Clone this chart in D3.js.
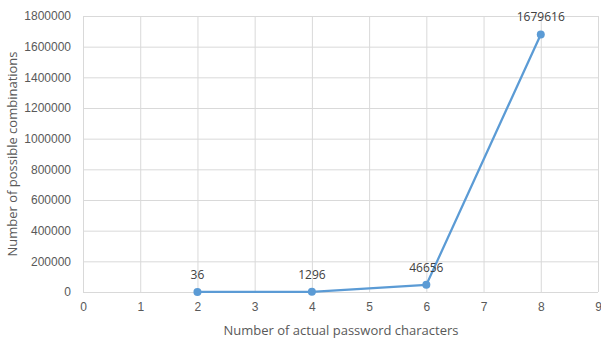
<!DOCTYPE html>
<html>
<head>
<meta charset="utf-8">
<script src="https://cdn.jsdelivr.net/npm/d3@7"></script>
<style>
  html, body { margin: 0; padding: 0; background: #fff; }
  svg { display: block; font-family: "Open Sans", "Noto Sans", sans-serif; }
</style>
</head>
<body>
<svg id="chart" width="601" height="341"></svg>
<script>
// Password length vs. number of combinations
const characters = [2, 4, 6, 8];
const combinations = [36, 1296, 46656, 1679616];
const xTicks = [0, 1, 2, 3, 4, 5, 6, 7, 8, 9];
const yTicks = [0, 200000, 400000, 600000, 800000, 1000000, 1200000, 1400000, 1600000, 1800000];

const svg = d3.select("#chart");
const plotLeft = 83, plotRight = 598, plotTop = 16, plotBottom = 292;

const x = d3.scaleLinear().domain([0, 9]).range([plotLeft, plotRight]);
const y = d3.scaleLinear().domain([0, 1800000]).range([plotBottom, plotTop]);

const textColor = "#595959";
const gridColor = "#d9d9d9";
const lineColor = "#5b9bd5";

// Gridlines
svg.append("g")
  .attr("transform", `translate(${plotLeft},0)`)
  .call(d3.axisLeft(y).tickValues(yTicks).tickSize(-(plotRight - plotLeft)).tickFormat(""))
  .call(g => g.select(".domain").remove())
  .selectAll("line").attr("stroke", gridColor).attr("stroke-width", 1);

svg.append("g")
  .attr("transform", `translate(0,${plotBottom})`)
  .call(d3.axisBottom(x).tickValues(xTicks).tickSize(-(plotBottom - plotTop)).tickFormat(""))
  .call(g => g.select(".domain").remove())
  .selectAll("line").attr("stroke", gridColor).attr("stroke-width", 1);

// Y tick labels
svg.append("g")
  .attr("transform", `translate(${plotLeft},0)`)
  .call(d3.axisLeft(y).tickValues(yTicks).tickSize(0).tickPadding(12).tickFormat(d3.format("d")))
  .call(g => g.select(".domain").remove())
  .selectAll("text")
  .attr("fill", textColor).style("font-size", "12px");

// X tick labels
svg.append("g")
  .attr("transform", `translate(0,${plotBottom})`)
  .call(d3.axisBottom(x).tickValues(xTicks).tickSize(0).tickPadding(10).tickFormat(d3.format("d")))
  .call(g => g.select(".domain").remove())
  .selectAll("text")
  .attr("fill", textColor).style("font-size", "12px");

// Axis titles
svg.append("text")
  .attr("x", 341).attr("y", 335)
  .attr("text-anchor", "middle").attr("fill", textColor)
  .style("font-size", "13px")
  .text("Number of actual password characters");

svg.append("text")
  .attr("transform", `translate(17,${(plotTop + plotBottom) / 2}) rotate(-90)`)
  .attr("text-anchor", "middle").attr("fill", textColor)
  .style("font-size", "13px")
  .text("Number of possible combinations");

// Series
const pts = characters.map((c, i) => ({ c, v: combinations[i] }));
svg.append("path")
  .datum(pts)
  .attr("fill", "none").attr("stroke", lineColor).attr("stroke-width", 2.25)
  .attr("stroke-linejoin", "round")
  .attr("d", d3.line().x(d => x(d.c)).y(d => y(d.v)));

svg.append("g").selectAll("circle")
  .data(pts).join("circle")
  .attr("cx", d => x(d.c)).attr("cy", d => y(d.v)).attr("r", 4)
  .attr("fill", lineColor);

svg.append("g").selectAll("text")
  .data(pts).join("text")
  .attr("x", d => x(d.c)).attr("y", d => y(d.v) - 13)
  .attr("text-anchor", "middle").attr("fill", "#404040")
  .style("font-size", "12px")
  .text(d => d3.format("d")(d.v));
</script>
</body>
</html>
